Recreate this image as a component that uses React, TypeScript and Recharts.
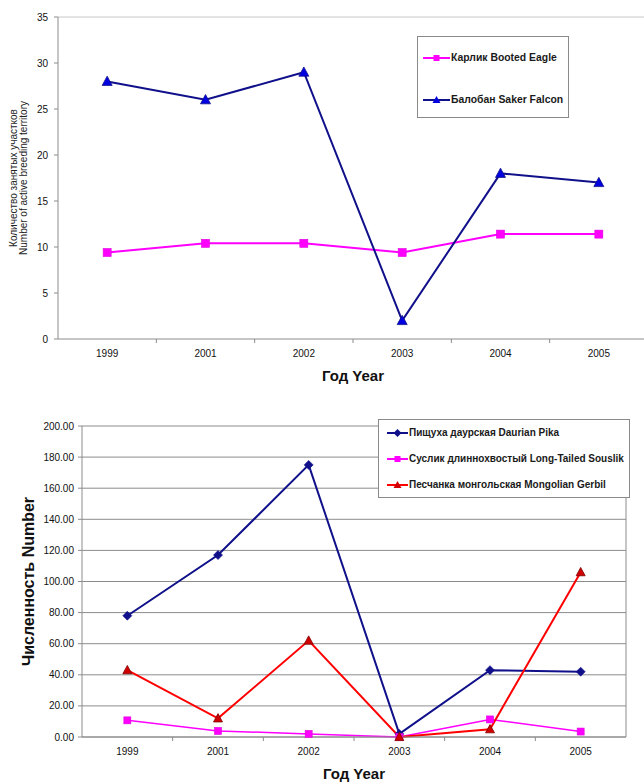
import React from 'react';
import { LineChart, Line, XAxis, YAxis, CartesianGrid, ReferenceLine, Legend, Label } from 'recharts';

const years = ['1999', '2001', '2002', '2003', '2004', '2005'];
const bootedEagle = [9.4, 10.4, 10.4, 9.4, 11.4, 11.4];
const sakerFalcon = [28, 26, 29, 2, 18, 17];
const daurianPika = [78, 117, 175, 2, 43, 42];
const longTailedSouslik = [10.7, 3.9, 2, 0, 11.3, 3.5];
const mongolianGerbil = [43, 12, 62, 0, 5, 106];
const topYTicks = [0, 5, 10, 15, 20, 25, 30, 35];
const bottomYTicks = [0, 20, 40, 60, 80, 100, 120, 140, 160, 180, 200];
const xTicks = [0, 0.5, 1, 1.5, 2, 2.5, 3, 3.5, 4, 4.5, 5, 5.5, 6];

const FONT = '"Liberation Sans", Arial, sans-serif';
const AXIS = '#8c8c8c';

const topData = years.map((y, i) => ({ x: i + 0.5, year: y, eagle: bootedEagle[i], falcon: sakerFalcon[i] }));
const bottomData = years.map((y, i) => ({
  x: i + 0.5,
  year: y,
  pika: daurianPika[i],
  souslik: longTailedSouslik[i],
  gerbil: mongolianGerbil[i],
}));

const makeXTick = (labelDy: number) => (props: any) => {
  const { x, y, payload } = props;
  const v = payload.value;
  if (Number.isInteger(v)) {
    if (v === 0 || v === 6) return <g />;
    return <line x1={x} x2={x} y1={y} y2={y + 4} stroke={AXIS} strokeWidth={1} />;
  }
  const label = years[Math.floor(v)];
  return (
    <text x={x} y={y + labelDy} textAnchor="middle" fontSize={10} fill="#111" fontFamily={FONT}>
      {label}
    </text>
  );
};

const makeDot = (shape: string, fill: string, stroke: string, size: number) => (props: any) => {
  const { cx, cy, index } = props;
  const key = `d${index}`;
  if (cx == null || cy == null) return <g key={key} />;
  const h = size / 2;
  if (shape === 'square')
    return <rect key={key} x={cx - h} y={cy - h} width={size} height={size} fill={fill} stroke={stroke} strokeWidth={0.6} />;
  if (shape === 'triangle')
    return (
      <polygon
        key={key}
        points={`${cx},${cy - h * 1.05} ${cx + h},${cy + h * 0.8} ${cx - h},${cy + h * 0.8}`}
        fill={fill}
        stroke={stroke}
        strokeWidth={0.8}
      />
    );
  return (
    <polygon
      key={key}
      points={`${cx},${cy - h} ${cx + h},${cy} ${cx},${cy + h} ${cx - h},${cy}`}
      fill={fill}
      stroke={stroke}
      strokeWidth={0.6}
    />
  );
};

const LegendIcon = ({ color, shape, fill, width }: any) => (
  <svg width={width} height={10} style={{ display: 'block' }}>
    <line x1={0} x2={width} y1={5} y2={5} stroke={color} strokeWidth={2} />
    {shape === 'square' && <rect x={width / 2 - 3} y={2} width={6} height={6} fill={fill} />}
    {shape === 'triangle' && <polygon points={`${width / 2},1 ${width / 2 + 4},8 ${width / 2 - 4},8`} fill={fill} />}
    {shape === 'diamond' && (
      <polygon points={`${width / 2},1 ${width / 2 + 4},5 ${width / 2},9 ${width / 2 - 4},5`} fill={fill} />
    )}
  </svg>
);

const legendText: React.CSSProperties = {
  position: 'absolute',
  fontFamily: FONT,
  fontSize: 10,
  fontWeight: 'bold',
  color: '#1a1a1a',
  whiteSpace: 'nowrap',
  lineHeight: '12px',
};

const topLegendItems = [
  { name: 'Карлик Booted Eagle', color: '#ff00ff', fill: '#ff00ff', shape: 'square', cy: 21 },
  { name: 'Балобан Saker Falcon', color: '#10108a', fill: '#0000e0', shape: 'triangle', cy: 63 },
];

const bottomLegendItems = [
  { name: 'Пищуха даурская Daurian Pika', color: '#10108a', fill: '#10108a', shape: 'diamond', cy: 13 },
  { name: 'Суслик длиннохвостый Long-Tailed Souslik', color: '#ff00ff', fill: '#ff00ff', shape: 'square', cy: 39 },
  { name: 'Песчанка монгольская Mongolian Gerbil', color: '#ff0000', fill: '#d00000', shape: 'triangle', cy: 65 },
];

const TopLegend = () => (
  <div style={{ position: 'relative', width: 150, height: 80, border: '1px solid #8a8a8a', background: '#fff' }}>
    {topLegendItems.map((it) => (
      <React.Fragment key={it.name}>
        <div style={{ position: 'absolute', left: 5, top: it.cy - 5 }}>
          <LegendIcon color={it.color} fill={it.fill} shape={it.shape} width={27} />
        </div>
        <div style={{ ...legendText, fontSize: 10.4, left: 33, top: it.cy - 6 }}>{it.name}</div>
      </React.Fragment>
    ))}
  </div>
);

const BottomLegend = () => (
  <div style={{ position: 'relative', width: 250, height: 77, border: '1px solid #8a8a8a', background: '#fff' }}>
    {bottomLegendItems.map((it) => (
      <React.Fragment key={it.name}>
        <div style={{ position: 'absolute', left: 8, top: it.cy - 5 }}>
          <LegendIcon color={it.color} fill={it.fill} shape={it.shape} width={21} />
        </div>
        <div style={{ ...legendText, left: 30, top: it.cy - 6 }}>{it.name}</div>
      </React.Fragment>
    ))}
  </div>
);

const TopYLabel = (props: any) => {
  const vb = props.viewBox || { x: 0, y: 17, width: 58, height: 322 };
  const cy = vb.y + vb.height / 2;
  return (
    <g>
      <text
        x={13}
        y={cy}
        transform={`rotate(-90, 13, ${cy})`}
        textAnchor="middle"
        dominantBaseline="central"
        fontSize={10}
        fontFamily={FONT}
        fill="#222"
      >
        Количество занятых участков
      </text>
      <text
        x={23}
        y={cy}
        transform={`rotate(-90, 23, ${cy})`}
        textAnchor="middle"
        dominantBaseline="central"
        fontSize={10}
        fontFamily={FONT}
        fill="#222"
      >
        Number of active breeding territory
      </text>
    </g>
  );
};

const BottomYLabel = (props: any) => {
  const vb = props.viewBox || { x: 0, y: 36, width: 82, height: 311 };
  const cy = vb.y + vb.height / 2;
  return (
    <text
      x={28}
      y={cy}
      transform={`rotate(-90, 28, ${cy})`}
      textAnchor="middle"
      dominantBaseline="central"
      fontSize={16}
      fontWeight="bold"
      fontFamily={FONT}
      fill="#111"
    >
      Численность Number
    </text>
  );
};

const makeXLabel = (baselineDy: number) => (props: any) => {
  const vb = props.viewBox;
  if (!vb) return null;
  return (
    <text
      x={vb.x + vb.width / 2}
      y={vb.y + baselineDy}
      textAnchor="middle"
      fontSize={15}
      fontWeight="bold"
      fontFamily={FONT}
      fill="#111"
    >
      Год Year
    </text>
  );
};

export default function App() {
  return (
    <div style={{ position: 'absolute', left: 0, top: 0, width: 644, height: 783, overflow: 'hidden', background: '#fff' }}>
      <div style={{ position: 'absolute', left: 0, top: 0 }}>
        <LineChart width={660} height={390} data={topData} margin={{ top: 17, right: 12, bottom: 6, left: 0 }}>
          <ReferenceLine y={35} stroke="#c8c8c8" strokeWidth={1} />
          <XAxis
            type="number"
            dataKey="x"
            domain={[0, 6]}
            ticks={xTicks}
            interval={0}
            tickLine={false}
            tickSize={0}
            tickMargin={0}
            height={45}
            axisLine={{ stroke: AXIS }}
            tick={makeXTick(18)}
          >
            <Label content={makeXLabel(42)} />
          </XAxis>
          <YAxis
            width={58}
            domain={[0, 35]}
            ticks={topYTicks}
            interval={0}
            axisLine={{ stroke: AXIS }}
            tickLine={{ stroke: AXIS }}
            tickSize={4}
            tickMargin={6}
            tick={{ fontSize: 10, fill: '#111', fontFamily: FONT }}
          >
            <Label content={TopYLabel} />
          </YAxis>
          <Legend
            layout="horizontal"
            verticalAlign="middle"
            align="center"
            content={() => <TopLegend />}
            wrapperStyle={{ position: 'absolute', left: 417, top: 36, width: 152, height: 82 }}
          />
          <Line
            dataKey="eagle"
            stroke="#ff00ff"
            strokeWidth={2}
            isAnimationActive={false}
            dot={makeDot('square', '#ff00ff', '#e000e0', 8)}
          />
          <Line
            dataKey="falcon"
            stroke="#10108a"
            strokeWidth={2}
            isAnimationActive={false}
            dot={makeDot('triangle', '#0000e0', '#10108a', 10)}
          />
        </LineChart>
      </div>
      <div style={{ position: 'absolute', left: 0, top: 390 }}>
        <LineChart width={644} height={393} data={bottomData} margin={{ top: 36, right: 18, bottom: 0, left: 0 }}>
          <CartesianGrid vertical={false} stroke="#8c8c8c" strokeWidth={1} />
          <ReferenceLine x={6} stroke={AXIS} strokeWidth={1} />
          <XAxis
            type="number"
            dataKey="x"
            domain={[0, 6]}
            ticks={xTicks}
            interval={0}
            tickLine={false}
            tickSize={0}
            tickMargin={0}
            height={46}
            axisLine={{ stroke: AXIS }}
            tick={makeXTick(18)}
          >
            <Label content={makeXLabel(42)} />
          </XAxis>
          <YAxis
            width={82}
            domain={[0, 200]}
            ticks={bottomYTicks}
            interval={0}
            axisLine={{ stroke: AXIS }}
            tickLine={{ stroke: AXIS }}
            tickSize={4}
            tickMargin={4}
            tickFormatter={(v: number) => v.toFixed(2)}
            tick={{ fontSize: 10, fill: '#111', fontFamily: FONT }}
          >
            <Label content={BottomYLabel} />
          </YAxis>
          <Legend
            layout="horizontal"
            verticalAlign="middle"
            align="center"
            content={() => <BottomLegend />}
            wrapperStyle={{ position: 'absolute', left: 378, top: 29, width: 252, height: 79 }}
          />
          <Line
            dataKey="pika"
            stroke="#10108a"
            strokeWidth={2}
            isAnimationActive={false}
            dot={makeDot('diamond', '#10108a', '#10108a', 9)}
          />
          <Line
            dataKey="souslik"
            stroke="#ff00ff"
            strokeWidth={1.5}
            isAnimationActive={false}
            dot={makeDot('square', '#ff00ff', '#e000e0', 7)}
          />
          <Line
            dataKey="gerbil"
            stroke="#ff0000"
            strokeWidth={2}
            isAnimationActive={false}
            dot={makeDot('triangle', '#d00000', '#800000', 9)}
          />
        </LineChart>
      </div>
    </div>
  );
}
